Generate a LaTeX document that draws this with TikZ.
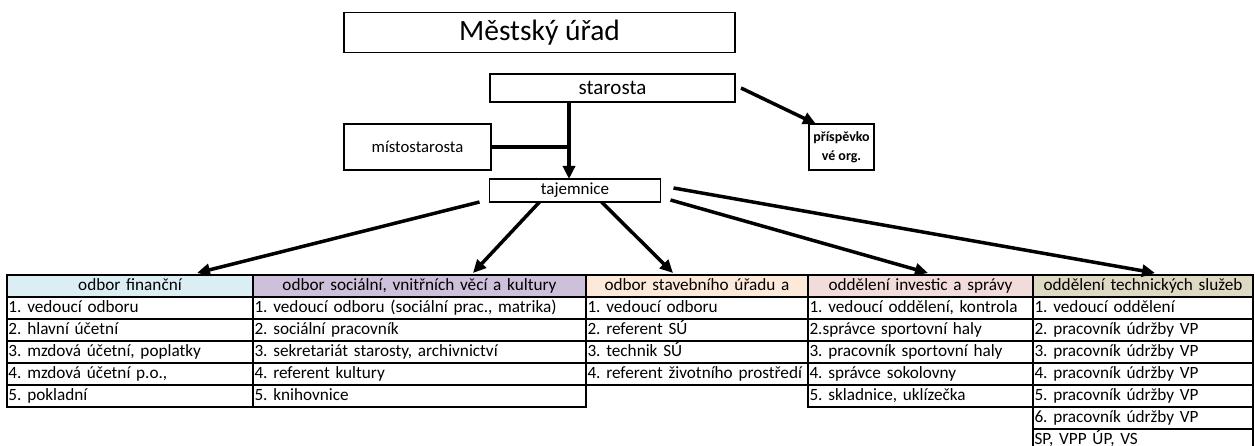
\documentclass[tikz,border=0pt]{standalone}
\usepackage{fontspec}
\setmainfont{Carlito}
\usetikzlibrary{arrows.meta,positioning}

\definecolor{finbg}{RGB}{219,238,244}
\definecolor{socbg}{RGB}{204,192,218}
\definecolor{stavbg}{RGB}{253,233,217}
\definecolor{invbg}{RGB}{242,220,219}
\definecolor{techbg}{RGB}{221,217,195}

\begin{document}
\frenchspacing
\begin{tikzpicture}[
    x=1pt, y=-1pt,
    box/.style={draw, line width=1.2pt, outer sep=0pt, inner sep=0pt, align=center},
    cell/.style={draw, line width=1.1pt, outer sep=0pt, inner xsep=1.5pt, inner ysep=0pt,
        minimum height=22pt, text width=#1, align=left,
        font=\fontsize{17.2}{20}\selectfont, text height=12.5pt, text depth=4pt},
    head/.style={cell=#1, align=center},
    arr/.style={line width=3.5pt, -{Triangle[length=13pt,width=12pt]}}
]
    \useasboundingbox (0,0) rectangle (1255,446);

    % Top boxes
    \node[box, minimum width=391pt, minimum height=40pt, font=\fontsize{29.5}{33}\selectfont] (urad) at (539.5,32.5) {Městský úřad};
    \node[box, minimum width=245pt, minimum height=28pt, font=\fontsize{21}{24}\selectfont] (starosta) at (612.5,88) {starosta};
    \node[box, minimum width=147pt, minimum height=46pt, font=\fontsize{16.7}{19}\selectfont] (misto) at (417.5,147) {místostarosta};
    \node[box, minimum width=65pt, minimum height=46pt, font=\fontsize{14}{19}\selectfont\bfseries] (prisp) at (841.5,147) {příspěvko\\vé org.};
    \node[box, minimum width=171pt, minimum height=23pt, font=\fontsize{17}{19}\selectfont] (tajemnice) at (575,190.5) {tajemnice};
    \coordinate (join) at (569,150);

    % Table
    \node[head=243pt, fill=finbg, anchor=north west] (fin) at (7,275) {odbor finanční};
    \node[cell=243pt, below=0pt of fin] (fin1) {1. vedoucí odboru};
    \node[cell=243pt, below=0pt of fin1] (fin2) {2. hlavní účetní};
    \node[cell=243pt, below=0pt of fin2] (fin3) {3. mzdová účetní, poplatky};
    \node[cell=243pt, below=0pt of fin3] (fin4) {4. mzdová účetní p.o.,};
    \node[cell=243pt, below=0pt of fin4] (fin5) {5. pokladní};

    \node[head=330pt, fill=socbg, right=0pt of fin] (soc) {odbor sociální, vnitřních věcí a kultury};
    \node[cell=330pt, below=0pt of soc] (soc1) {1. vedoucí odboru (sociální prac., matrika)};
    \node[cell=330pt, below=0pt of soc1] (soc2) {2. sociální pracovník};
    \node[cell=330pt, below=0pt of soc2] (soc3) {3. sekretariát starosty, archivnictví};
    \node[cell=330pt, below=0pt of soc3] (soc4) {4. referent kultury};
    \node[cell=330pt, below=0pt of soc4] (soc5) {5. knihovnice};

    \node[head=219pt, fill=stavbg, right=0pt of soc] (stav) {odbor stavebního úřadu a};
    \node[cell=219pt, below=0pt of stav] (stav1) {1. vedoucí odboru};
    \node[cell=219pt, below=0pt of stav1] (stav2) {2. referent SÚ};
    \node[cell=219pt, below=0pt of stav2] (stav3) {3. technik SÚ};
    \node[cell=219pt, below=0pt of stav3] (stav4) {\mbox{4. referent životního prostředí}};

    \node[head=222pt, fill=invbg, right=0pt of stav] (inv) {oddělení investic a správy};
    \node[cell=222pt, below=0pt of inv] (inv1) {1. vedoucí oddělení, kontrola};
    \node[cell=222pt, below=0pt of inv1] (inv2) {2.správce sportovní haly};
    \node[cell=222pt, below=0pt of inv2] (inv3) {3. pracovník sportovní haly};
    \node[cell=222pt, below=0pt of inv3] (inv4) {4. správce sokolovny};
    \node[cell=222pt, below=0pt of inv4] (inv5) {5. skladnice, uklízečka};

    \node[head=217pt, fill=techbg, right=0pt of inv] (tech) {oddělení technických služeb};
    \node[cell=217pt, below=0pt of tech] (tech1) {1. vedoucí oddělení};
    \node[cell=217pt, below=0pt of tech1] (tech2) {2. pracovník údržby VP};
    \node[cell=217pt, below=0pt of tech2] (tech3) {3. pracovník údržby VP};
    \node[cell=217pt, below=0pt of tech3] (tech4) {4. pracovník údržby VP};
    \node[cell=217pt, below=0pt of tech4] (tech5) {5. pracovník údržby VP};
    \node[cell=217pt, below=0pt of tech5] (tech6) {6. pracovník údržby VP};
    \node[cell=217pt, below=0pt of tech6] (tech7) {SP, VPP ÚP, VS};

    % Arrows
    \draw[arr] (starosta.south -| join) -- (tajemnice.north -| join);
    \draw[line width=3.5pt] (misto.east) -- (misto.east -| join);
    \draw[arr] ([xshift=6pt]starosta.east) -- ([xshift=7pt]prisp.north west);

    \draw[arr] ([xshift=-10pt]tajemnice.south west) -- ([xshift=67pt,yshift=2pt]fin.north);
    \draw[arr] ([xshift=50pt]tajemnice.south west) -- ([xshift=53.5pt,yshift=2pt]soc.north);
    \draw[arr] ([xshift=112pt]tajemnice.south west) -- ([xshift=-24pt,yshift=2pt]stav.north);
    \draw[arr] ([xshift=10pt,yshift=2pt]tajemnice.south east) -- ([xshift=7.5pt,yshift=2pt]inv.north);
    \draw[arr] ([xshift=13pt,yshift=2.5pt]tajemnice.east) -- ([xshift=12pt,yshift=2pt]tech.north);
\end{tikzpicture}
\end{document}
